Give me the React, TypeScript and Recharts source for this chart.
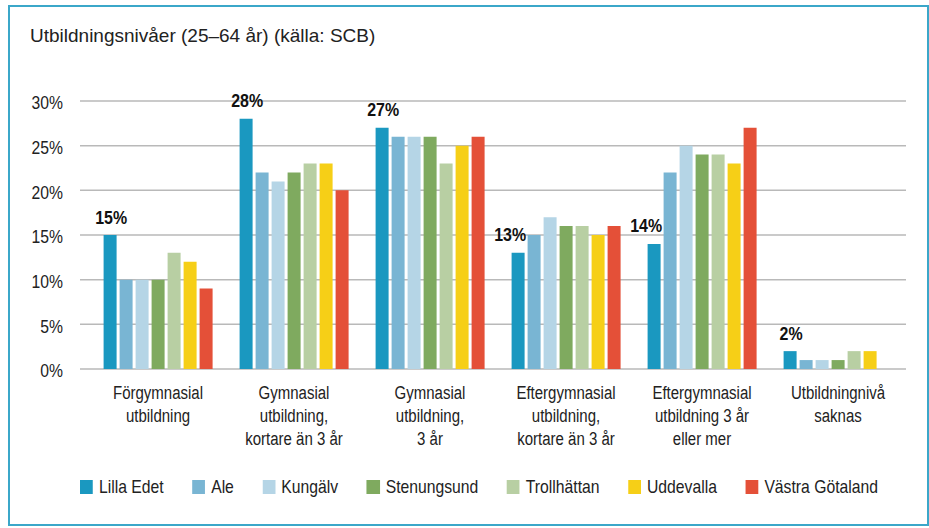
import { BarChart, Bar, XAxis, YAxis, CartesianGrid, LabelList } from 'recharts'

const categories = [
  'Förgymnasial\nutbildning',
  'Gymnasial\nutbildning,\nkortare än 3 år',
  'Gymnasial\nutbildning,\n3 år',
  'Eftergymnasial\nutbildning,\nkortare än 3 år',
  'Eftergymnasial\nutbildning 3 år\neller mer',
  'Utbildningnivå\nsaknas',
]

const lillaEdet = [15, 28, 27, 13, 14, 2]
const ale = [10, 22, 26, 15, 22, 1]
const kungalv = [10, 21, 26, 17, 25, 1]
const stenungsund = [10, 22, 26, 16, 24, 1]
const trollhattan = [13, 23, 23, 16, 24, 2]
const uddevalla = [12, 23, 25, 15, 23, 2]
const vastraGotaland = [9, 20, 26, 16, 27, null]

const yTicks = [0, 5, 10, 15, 20, 25, 30]

const series = [
  { key: 'lillaEdet', name: 'Lilla Edet', color: '#1a98c0', values: lillaEdet },
  { key: 'ale', name: 'Ale', color: '#79b5d3', values: ale },
  { key: 'kungalv', name: 'Kungälv', color: '#b5d5e6', values: kungalv },
  { key: 'stenungsund', name: 'Stenungsund', color: '#7faa5f', values: stenungsund },
  { key: 'trollhattan', name: 'Trollhättan', color: '#b8cfa3', values: trollhattan },
  { key: 'uddevalla', name: 'Uddevalla', color: '#f6cf17', values: uddevalla },
  { key: 'vastraGotaland', name: 'Västra Götaland', color: '#e45038', values: vastraGotaland },
]

const data = categories.map((name, i) => {
  const row: Record<string, string | number | null> = { name }
  series.forEach((s) => {
    row[s.key] = s.values[i]
  })
  return row
})

// no narrow font installed, so text is squeezed horizontally to look condensed
const FONT = "'Liberation Sans', Arial, sans-serif"

function CategoryTick({ x, y, payload }: any) {
  const lines = String(payload.value).split('\n')
  return (
    <g>
      {lines.map((line, i) => (
        <text
          key={i}
          transform={`translate(${x},${y + 21.5 + i * 23.3}) scale(0.79,1)`}
          textAnchor="middle"
          fill="#222"
          fontSize={19}
          fontFamily={FONT}
        >
          {line}
        </text>
      ))}
    </g>
  )
}

function PercentTick({ x, y, payload }: any) {
  return (
    <text
      transform={`translate(${x},${y + 8.3}) scale(0.85,1)`}
      textAnchor="end"
      fill="#222"
      fontSize={18.5}
      fontFamily={FONT}
    >
      {`${payload.value}%`}
    </text>
  )
}

// label moves left when the neighbouring bar is taller, like in the original
function ValueLabel(props: any) {
  const { x, y, width, value, index } = props
  if (value == null) return null
  const dx = (ale[index] ?? 0) > value ? -8 : 1
  return (
    <text
      transform={`translate(${x + width / 2 + dx},${y - 11.5}) scale(0.84,1)`}
      textAnchor="middle"
      fill="#111"
      fontSize={19}
      fontWeight="bold"
      fontFamily={FONT}
    >
      {`${value}%`}
    </text>
  )
}

function LegendRow() {
  const k = 0.85
  return (
    <div
      style={{
        position: 'absolute',
        left: 80,
        top: 477,
        display: 'flex',
        gap: 28.5 / k,
        fontFamily: FONT,
        fontSize: 18.5,
        lineHeight: '20px',
        color: '#222',
        transform: `scaleX(${k})`,
        transformOrigin: 'left center',
        whiteSpace: 'nowrap',
      }}
    >
      {series.map((s) => (
        <div key={s.key} style={{ display: 'flex', alignItems: 'center', gap: 6 / k }}>
          <span style={{ width: 13 / k, height: 14, background: s.color, display: 'inline-block' }} />
          <span>{s.name}</span>
        </div>
      ))}
    </div>
  )
}

export default function App() {
  return (
    <div style={{ position: 'absolute', left: 0, top: 0, width: 929, height: 528, background: '#fff' }}>
      <div
        style={{
          position: 'absolute',
          left: 30,
          top: 26,
          fontFamily: FONT,
          fontSize: 19,
          lineHeight: '19px',
          color: '#222',
          whiteSpace: 'nowrap',
        }}
      >
        Utbildningsnivåer (25–64 år) (källa: SCB)
      </div>
      <div style={{ position: 'absolute', left: 0, top: 0 }}>
        <BarChart
          width={929}
          height={528}
          data={data}
          margin={{ top: 101, right: 23, bottom: 79, left: 0 }}
          barCategoryGap="10%"
          barGap={3}
        >
          <CartesianGrid vertical={false} stroke="#b9b9b9" strokeWidth={1.5} />
          <XAxis
            dataKey="name"
            axisLine={false}
            tickLine={false}
            height={80}
            interval={0}
            padding={{ left: 10, right: 0 }}
            tick={<CategoryTick />}
          />
          <YAxis
            domain={[0, 30]}
            ticks={yTicks}
            width={80}
            axisLine={false}
            tickLine={false}
            tickMargin={11}
            tick={<PercentTick />}
          />
          {series.map((s) => (
            <Bar key={s.key} dataKey={s.key} name={s.name} fill={s.color} isAnimationActive={false}>
              {s.key === 'lillaEdet' && <LabelList dataKey={s.key} content={<ValueLabel />} />}
            </Bar>
          ))}
        </BarChart>
      </div>
      <LegendRow />
      <div
        style={{
          position: 'absolute',
          left: 8,
          top: 5,
          width: 921,
          height: 521,
          boxSizing: 'border-box',
          border: '2px solid #3ba7c9',
          pointerEvents: 'none',
          zIndex: 2,
        }}
      />
    </div>
  )
}
